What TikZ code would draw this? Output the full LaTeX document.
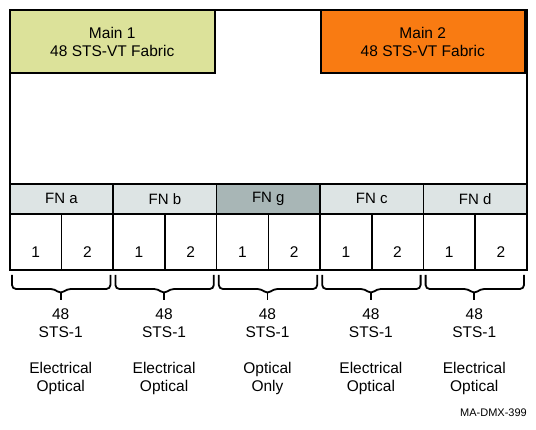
\documentclass[tikz,border=0pt]{standalone}
\usepackage{fontspec}
\setmainfont{Liberation Sans}
\usetikzlibrary{positioning}
\definecolor{mainone}{HTML}{DCE29A}
\definecolor{maintwo}{HTML}{F97B12}
\definecolor{fnfill}{HTML}{DDE4E4}
\definecolor{fngfill}{HTML}{A8B6B6}

\begin{document}
\begin{tikzpicture}[x=1pt,y=-1pt,
  font=\fontsize{15.5}{18}\selectfont,
  frame/.style={draw,line width=2pt,minimum width=517pt,minimum height=260pt,
    anchor=north west,inner sep=0pt},
  fabric/.style={draw,line width=2pt,minimum width=204.5pt,minimum height=63pt,
    align=center,inner sep=0pt},
  fncell/.style={draw,line width=1.6pt,minimum width=103.4pt,minimum height=30pt,
    anchor=north west,inner sep=0pt,font=\fontsize{15}{18}\selectfont},
  port/.style={draw,line width=1.6pt,minimum width=51.7pt,minimum height=56pt,
    anchor=north west,inner sep=0pt,text height=32pt,text depth=0pt},
  bracket/.style={line width=1.8pt,rounded corners=4pt},
  info/.style={align=center,inner sep=0pt}]
\useasboundingbox (0,0) rectangle (536,430);
\node[frame] (frame) at (9,9) {};
\node[fabric,fill=mainone,anchor=north west] (main1) at (9,9) {Main 1\\48 STS-VT Fabric};
\node[fabric,fill=maintwo,anchor=north east] (main2) at (526,9) {Main 2\\48 STS-VT Fabric};
\foreach \name/\col/\modes [count=\i from 0] in
  {a/fnfill/{Electrical\\Optical},b/fnfill/{Electrical\\Optical},
   g/fngfill/{Optical\\Only},c/fnfill/{Electrical\\Optical},
   d/fnfill/{Electrical\\Optical}} {
  \pgfmathsetmacro{\xl}{9+103.4*\i}
  \pgfmathsetmacro{\xc}{\xl+51.7}
  \node[fncell,fill=\col] (fn\name) at (\xl,183) {FN \name};
  \node[port] (p\name1) at (\xl,213) {1};
  \node[port] (p\name2) at (\xc,213) {2};
  % brace under each FN
  \draw[bracket] (\xl+3,275) -- (\xl+3,289) -- (\xc-6,289) -- (\xc,294)
    -- (\xc+6,289) -- (\xl+101.4,289) -- (\xl+101.4,275);
  \draw[line width=1.8pt] (\xc,292) -- (\xc,300);
  \node[info] (sts\name) at (\xc,323) {48\\STS-1};
  \node[info] (mode\name) at (\xc,378) {\modes};
}
\node[anchor=east,inner sep=0pt,font=\fontsize{11}{13}\selectfont] (tag) at (527,413) {MA-DMX-399};
\end{tikzpicture}
\end{document}
